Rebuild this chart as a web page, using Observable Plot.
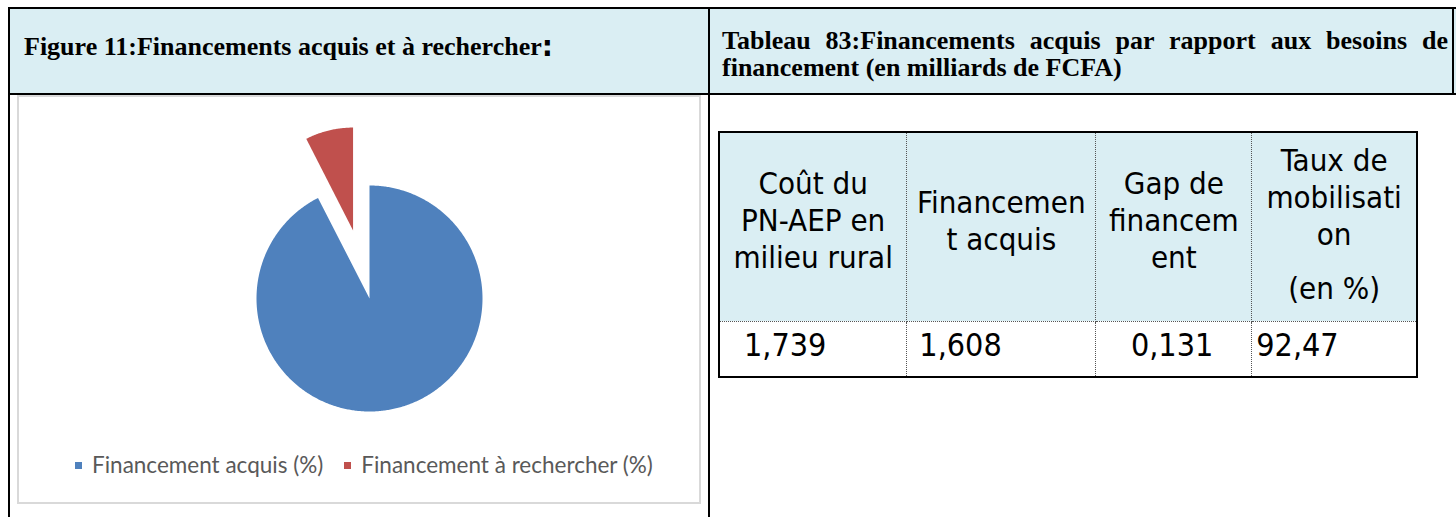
<!DOCTYPE html>
<html>
<head>
<meta charset="utf-8">
<script src="https://cdn.jsdelivr.net/npm/d3@7"></script>
<script src="https://cdn.jsdelivr.net/npm/@observablehq/plot@0.6"></script>
<style>
  html, body { margin: 0; padding: 0; background: #fff; }
  body { width: 1456px; height: 517px; position: relative; overflow: hidden; }
  .abs { position: absolute; box-sizing: border-box; }
  .hdr { background: #DAEEF3; }
  .serif { font-family: "Liberation Serif", "Times New Roman", serif; font-weight: bold; color: #000; white-space: nowrap; }
  .bar { background: #000; }
  #legend { font-family: Lato, "Open Sans", sans-serif; color: #595959; font-size: 22.5px; white-space: nowrap; }
  #legend .sw { display: inline-block; width: 7px; height: 7px; margin-right: 10px; vertical-align: middle; position: relative; top: -2px; }
  #legend .it { display: inline-block; margin-right: 21px; }
  table.t { border-collapse: collapse; font-family: "DejaVu Sans Condensed", "DejaVu Sans", sans-serif; color: #000; }
  table.t td { border: 1px dotted #555; padding: 0; }
  table.t tr.h td { background: #DAEEF3; text-align: center; vertical-align: middle; font-size: 31px; line-height: 37px; padding-bottom: 10px; }
  table.t tr.d td { font-size: 32px; line-height: 36px; vertical-align: top; padding-top: 5px; }
</style>
</head>
<body>
<!-- header row -->
<div class="abs hdr" style="left:8px; top:7px; width:1448px; height:88px;"></div>
<div class="abs bar" style="left:8px; top:7px; width:1448px; height:2px;"></div>
<div class="abs bar" style="left:8px; top:93px; width:1448px; height:2px;"></div>
<div class="abs bar" style="left:1452px; top:7px; width:2px; height:88px;"></div>
<div class="abs bar" style="left:8px; top:7px; width:2px; height:510px;"></div>
<div class="abs bar" style="left:708px; top:7px; width:2px; height:510px;"></div>

<div id="figTitle" class="abs serif" style="left:24px; top:31px; font-size:26px; line-height:30px;"></div>
<div id="tabTitle1" class="abs serif" style="left:722px; top:28px; width:726px; font-size:26px; line-height:26px; text-align:justify; text-align-last:justify;"></div>
<div id="tabTitle2" class="abs serif" style="left:722px; top:55px; font-size:26px; line-height:26px;"></div>

<!-- chart frame -->
<div class="abs" style="left:17px; top:95px; width:684px; height:409px; border:2px solid #D9D9D9;"></div>
<div id="chart" class="abs" style="left:19px; top:97px;"></div>
<div id="legend" class="abs" style="left:75px; top:451px;"></div>

<!-- inner table -->
<div id="tbl" class="abs" style="left:718px; top:131px;"></div>

<script>
// ---- data ----
const figureTitle = "Figure 11:Financements acquis et à rechercher";
const tableTitleLines = ["Tableau 83:Financements acquis par rapport aux besoins de", "financement (en milliards de FCFA)"];
const sliceNames = ["Financement acquis (%)", "Financement à rechercher (%)"];
const sliceValues = [92.47, 7.53];
const sliceColors = ["#4F81BD", "#C0504D"];
const sliceExplode = [0, 0.62];    // offset in radius units
const sliceRadius = [1, 0.91];     // relative radius
const tableHeaders = [
  ["Coût du", "PN-AEP en", "milieu rural"],
  ["Financemen", "t acquis"],
  ["Gap de", "financem", "ent"],
  ["Taux de", "mobilisati", "on"]
];
const tableHeaderExtra = ["", "", "", "(en %)"];
const tableValues = ["1,739", "1,608", "0,131", "92,47"];

// ---- titles ----
document.getElementById("figTitle").innerHTML =
  figureTitle + '<span style="font-family:\'DejaVu Sans\',sans-serif;font-size:28px;position:relative;top:1px;">:</span>';
document.getElementById("tabTitle1").textContent = tableTitleLines[0];
document.getElementById("tabTitle2").textContent = tableTitleLines[1];

// ---- pie via Plot ----
const W = 680, H = 340, cx = 350, cy = 201, R = 113;
const arcs = d3.pie().sort(null).value(d => d)(sliceValues);
const slices = arcs.map((a, i) => {
  const mid = (a.startAngle + a.endAngle) / 2;
  const ox = Math.sin(mid) * sliceExplode[i], oy = Math.cos(mid) * sliceExplode[i];
  const r = sliceRadius[i];
  const n = Math.max(4, Math.ceil((a.endAngle - a.startAngle) / 0.01));
  const pts = [{x: ox, y: oy}];
  for (let k = 0; k <= n; k++) {
    const t = a.startAngle + (a.endAngle - a.startAngle) * k / n;
    pts.push({x: ox + Math.sin(t) * r, y: oy + Math.cos(t) * r});
  }
  pts.push({x: ox, y: oy});
  return {name: sliceNames[i], color: sliceColors[i], pts};
});

const plot = Plot.plot({
  width: W, height: H,
  margin: 0,
  x: {domain: [-cx / R, (W - cx) / R], axis: null},
  y: {domain: [-(H - cy) / R, cy / R], axis: null},
  marks: slices.map(s => Plot.line(s.pts, {x: "x", y: "y", fill: s.color, stroke: "none", curve: "linear"}))
});
document.getElementById("chart").appendChild(plot);

// ---- legend ----
document.getElementById("legend").innerHTML = sliceNames.map((n, i) =>
  `<span class="it"><span class="sw" style="background:${sliceColors[i]}"></span>${n}</span>`).join("");

// ---- table ----
const colW = [190, 189, 156, 165];
const hdrPad = ["padding-bottom:12px", "padding-bottom:12px", "padding-bottom:12px", "padding-bottom:4px"];
const dataPad = ["padding-left:24px", "padding-left:12px", "text-align:right;padding-right:38px", "padding-left:4px"];
let html = '<table class="t" style="width:700px;border:2px solid #000;">';
html += '<tr class="h" style="height:189px;">' + tableHeaders.map((h, i) =>
  `<td style="width:${colW[i]}px;${hdrPad[i]}">${h.join("<br>")}${tableHeaderExtra[i] ? '<div style="margin-top:17px">' + tableHeaderExtra[i] + '</div>' : ''}</td>`).join("") + '</tr>';
html += '<tr class="d" style="height:56px;">' + tableValues.map((v, i) =>
  `<td style="${dataPad[i]}">${v}</td>`).join("") + '</tr>';
html += '</table>';
document.getElementById("tbl").innerHTML = html;
</script>
</body>
</html>
